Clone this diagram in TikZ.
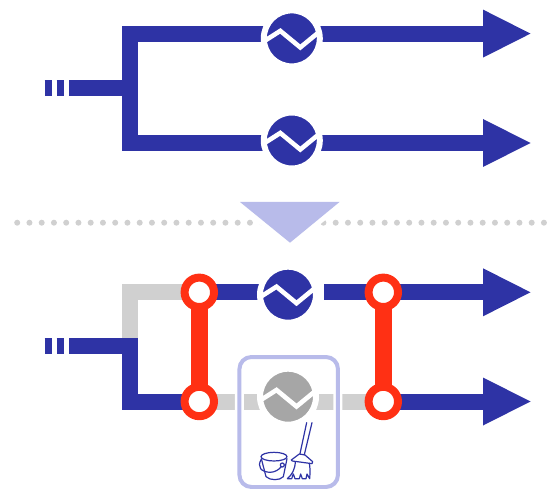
\documentclass[tikz,border=0pt]{standalone}
\usetikzlibrary{arrows.meta}
\definecolor{bluemain}{HTML}{2E33A5}
\definecolor{redmain}{HTML}{FF3014}
\definecolor{greyline}{HTML}{D0D0D0}
\definecolor{greydisc}{HTML}{A6A6A6}
\definecolor{lilac}{HTML}{B8BBEA}
\pgfdeclarelayer{bg}
\pgfsetlayers{bg,main}
\tikzset{
  pipe/.style={line width=16pt,draw=bluemain},
  idle/.style={line width=16pt,draw=greyline},
  outflow/.style={pipe,-{Triangle[length=47.5pt,width=48pt,line width=0pt]},fill=bluemain},
  disc/.style={circle,minimum size=56pt,inner sep=0pt,outer sep=0pt,draw=white,line width=6pt,fill=#1},
  ring/.style={circle,minimum size=29.4pt,inner sep=0pt,outer sep=0pt,draw=redmain,line width=8pt,fill=white},
  link/.style={line width=16.5pt,draw=redmain},
  wavy/.style={draw=white,line width=4.6pt,line join=miter},
  pics/wave/.style={code={\draw[wavy] (-28,#1+3) -- (-11.5,#1-7.5) -- (8.5,#1+9) -- (28,#1-7);}},
  icon/.style={draw=bluemain,line width=1.2pt,line join=round,line cap=round},
}
\begin{document}
\begin{tikzpicture}[x=1pt,y=-1pt]
\useasboundingbox (0,0) rectangle (549,489);
% divider
\draw[greyline,line width=6pt,line cap=round,dash pattern=on 0pt off 12.25pt] (17.2,222.7) -- (546,222.7);
\draw[white,line width=10pt,line join=round] (240,202) -- (339.5,202) -- (290,242.7) -- cycle;
\fill[lilac] (240,202) -- (339.5,202) -- (290,242.7) -- cycle;
% maintenance box
\node (box) [draw=lilac,line width=4pt,rounded corners=12pt,minimum width=98.5pt,minimum height=130pt,inner sep=0pt,outer sep=0pt,preaction={draw=white,line width=9pt}] at (288.7,422) {};
% discs
\node (a) [disc=bluemain] at (291.8,38.4) {};
\node (b) [disc=bluemain] at (291.8,140.5) {};
\node (c) [disc=bluemain] at (288,294.7) {};
\node (d) [disc=greydisc] at (288,396.7) {};
\pic at (a) {wave=0};
\pic at (b) {wave=0};
\pic at (c) {wave=-0.5};
\pic at (d) {wave=0.8};
% rings
\node (r1) [ring] at (199.3,292.3) {};
\node (r2) [ring] at (199.3,401.5) {};
\node (r3) [ring] at (383.3,292.3) {};
\node (r4) [ring] at (383.3,401.5) {};
\draw[link] (r1) -- (r2);
\draw[link] (r3) -- (r4);
% free ends
\coordinate (j1) at (130,33.6);
\coordinate (j2) at (130,143);
\coordinate (j0) at (130,88);
\coordinate (st0) at (69,88);
\coordinate (t1) at (530.5,33.6);
\coordinate (t2) at (530.5,143);
\coordinate (k1) at (130,292.3);
\coordinate (k0) at (130,346);
\coordinate (k2) at (130,401.5);
\coordinate (st1) at (69,346);
\coordinate (t3) at (530.5,292.3);
\coordinate (t4) at (530.5,401.5);
\coordinate (g3) at (324,292.3);
\begin{pgfonlayer}{bg}
\draw[pipe] (st0) -- (j0);
\draw[pipe,line cap=butt] (44.7,88) -- (52,88) (56.7,88) -- (64,88);
\draw[pipe] (j1 -| a) -- (j1) -- (j2) -- (j2 -| b);
\draw[outflow] (j1 -| a) -- (t1);
\draw[outflow] (j2 -| b) -- (t2);
\draw[idle] (r1) -- (k1) -- (k0);
\draw[pipe] (st1) -- (k0) -- (k2) -- (r2);
\draw[pipe,line cap=butt] (44.7,346) -- (52,346) (56.7,346) -- (64,346);
\draw[pipe] (r1) -- (k1 -| c);
\draw[outflow] (g3) -- (t3);
\draw[idle] (r2) -- (r4);
\draw[outflow] (r4) -- (t4);
\end{pgfonlayer}
% cleaning icon
\begin{scope}[shift={(250,410)},x=0.3333pt,y=-0.3333pt]
\draw[icon] (72,140) ellipse [x radius=39,y radius=13];
\draw[icon] (34,146) -- (48,200) .. controls (60,212) and (90,212) .. (100,200) -- (111,146);
\draw[icon] (34,148) .. controls (20,170) and (33,186) .. (60,187) .. controls (75,187) and (88,178) .. (94,170);
\draw[icon] (97,165) circle [radius=6];
\draw[icon] (170,38) -- (150,131);
\draw[icon] (186,38) -- (163,134);
\draw[icon] (124,150) -- (148,132) -- (165,135) -- (188,155) -- (186,161) -- (127,153) -- cycle;
\draw[icon] (136,155) .. controls (135,180) and (125,195) .. (112,206) -- (125,206) -- (130,192) -- (135,206) -- (148,206) -- (152,192) -- (157,206) -- (168,206) -- (171,192) -- (179,206) .. controls (181,185) and (180,170) .. (178,160);
\end{scope}
\end{tikzpicture}
\end{document}
